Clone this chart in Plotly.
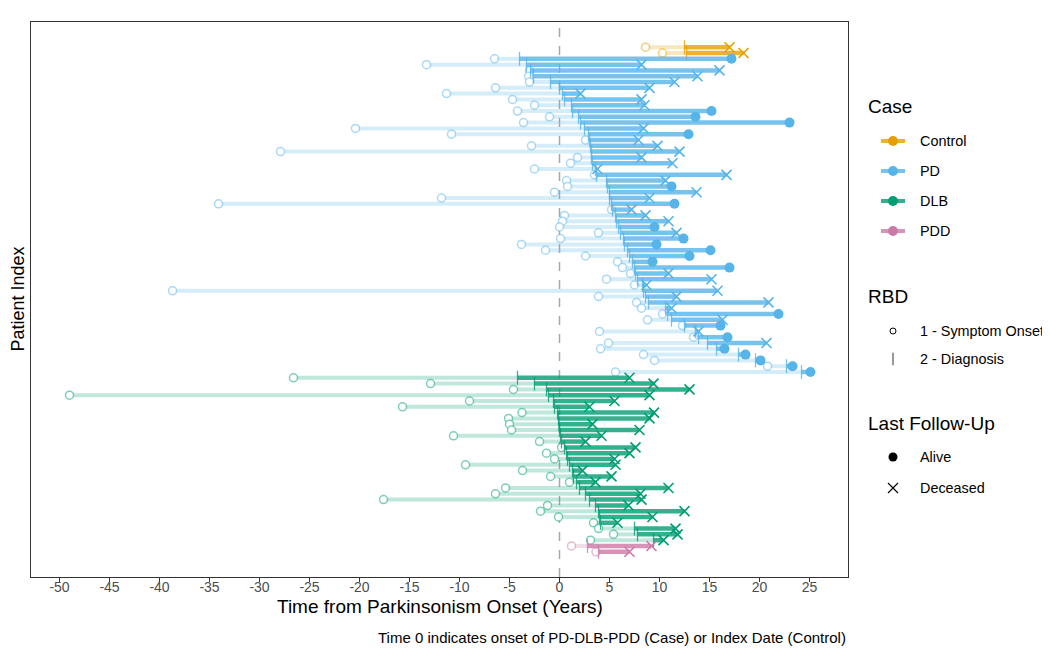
import plotly.graph_objects as go

# ---------------- data (years from parkinsonism onset) ----------------
case_names = ["Control", "PD", "DLB", "PDD"]
case_rgb = {"Control": (230, 159, 0), "PD": (86, 180, 233),
            "DLB": (0, 158, 115), "PDD": (204, 121, 167)}

control_onset = [8.6, 10.3]
control_dx = [12.5, 12.7]
control_last = [17.0, 18.4]
control_status = ["D", "D"]

pd_onset = [-6.5, -13.3, -3.0, -3.1, -3.0, -6.4, -11.3, -4.7, -2.5, -4.2, -1.0,
            -3.6, -20.4, -10.8, 2.6, -2.8, -27.9, 1.8, 1.1, -2.5, 3.5, 0.7, 0.8, -0.5,
            -11.8, -34.1, 5.2, 0.5, 0.3, 0.0, 3.9, 0.1, -3.8, -1.4, 2.6, 5.8, 6.3,
            7.1, 4.7, 7.5, -38.7, 3.9, 7.7, 8.2, 10.3, 8.8, 12.3, 4.0, 13.4, 4.9,
            4.1, 8.4, 9.5, 20.8, 5.6]
pd_dx = [-4.0, -3.3, -2.9, -2.6, -0.9, 0.0, 0.3, 0.5, 1.2, 1.3, 1.9,
         2.1, 2.5, 2.9, 3.0, 3.1, 3.2, 3.2, 3.3, 3.6, 3.7, 4.7, 4.8, 5.0,
         5.0, 5.2, 5.3, 5.6, 5.7, 5.9, 6.1, 6.4, 6.5, 6.8, 7.0, 7.3, 7.5,
         7.6, 7.8, 8.3, 8.4, 8.6, 8.9, 10.6, 10.8, 11.2, 12.5, 13.6, 13.9, 14.8,
         15.7, 17.9, 19.6, 22.7, 24.2]
pd_last = [17.2, 8.2, 16.0, 13.8, 11.5, 9.0, 2.1, 8.2, 8.5, 15.2, 13.6,
           23.0, 8.4, 12.9, 7.9, 9.8, 12.0, 8.2, 11.3, 3.8, 16.7, 10.6, 11.2, 13.7,
           9.0, 11.5, 7.2, 8.6, 10.9, 9.5, 11.7, 12.4, 9.7, 15.1, 13.0, 9.3, 17.0,
           10.9, 15.2, 8.7, 15.8, 11.7, 20.9, 11.2, 21.9, 16.3, 16.1, 13.9, 16.8, 20.7,
           16.5, 18.6, 20.1, 23.3, 25.1]
pd_status = ["A", "D", "D", "D", "D", "D", "D", "D", "D", "A", "A",
             "A", "D", "A", "D", "D", "D", "D", "D", "D", "D", "D", "A", "D",
             "D", "A", "D", "D", "D", "A", "D", "A", "A", "A", "A", "A", "A",
             "D", "D", "D", "D", "D", "D", "D", "A", "D", "A", "D", "A", "D",
             "A", "A", "A", "A", "A"]

dlb_onset = [-26.6, -12.9, -4.6, -49.0, -9.0, -15.7, -3.75, -5.1, -5.0, -4.8,
             -10.6, -2.0, 0.2, -1.3, -0.5, -9.4, -3.7, -0.9, 1.0, -5.4,
             -6.4, -17.6, -1.2, -1.9, -0.1, 3.4, 3.9, 5.4, 3.1]
dlb_dx = [-4.2, -2.5, -1.3, -1.1, -0.6, -0.5, -0.2, -0.1, -0.05, 0.0,
          0.1, 0.2, 0.5, 0.7, 0.8, 1.0, 1.3, 1.4, 1.7, 2.0,
          2.6, 3.0, 3.6, 3.9, 4.0, 4.1, 7.5, 7.8, 9.4]
dlb_last = [7.0, 9.4, 13.0, 9.0, 5.5, 3.0, 9.45, 9.0, 3.3, 8.0,
            4.2, 2.6, 7.6, 7.0, 5.5, 5.6, 2.3, 5.2, 3.6, 10.9,
            8.1, 8.2, 6.9, 12.5, 9.3, 5.8, 11.6, 11.8, 10.4]
dlb_status = ["D"] * 29

pdd_onset = [1.2, 3.65]
pdd_dx = [2.8, 3.9]
pdd_last = [9.2, 7.0]
pdd_status = ["D", "D"]

x_ticks = list(range(-50, 30, 5))
x_tick_labels = [str(v) for v in x_ticks]

groups = {
    "Control": (control_onset, control_dx, control_last, control_status),
    "PD": (pd_onset, pd_dx, pd_last, pd_status),
    "DLB": (dlb_onset, dlb_dx, dlb_last, dlb_status),
    "PDD": (pdd_onset, pdd_dx, pdd_last, pdd_status),
}

FONT = "Liberation Sans, Arial, Helvetica, sans-serif"

# page body has an 8px margin: work in reference pixels and shift by OFF
OFF = 8
W, H = 1050 - OFF, 652 - OFF
PL, PR, PT, PB = 31, 848, 22, 577          # panel box in reference pixels
ML, MT = PL - OFF, PT - OFF
MB = H - (PB - OFF)
PW = W - ML                                 # paper width (r margin = 0)
PH = PB - PT
dom = (PR - PL) / PW


def px(xr):
    return (xr - PL) / PW


def py(yr):
    return (PB - yr) / PH


def rgba(rgb, a):
    return "rgba(%d,%d,%d,%.3f)" % (rgb[0], rgb[1], rgb[2], a)


fig = go.Figure()

row = 0
n_total = sum(len(g[0]) for g in groups.values())
for name in case_names:
    onset, dx, last, status = groups[name]
    rgb = case_rgb[name]
    ys = list(range(row + 1, row + 1 + len(onset)))
    row += len(onset)

    lx, ly, dxs, dys = [], [], [], []
    for o, d, l, y in zip(onset, dx, last, ys):
        lx += [o, d, None]
        ly += [y, y, None]
        dxs += [d, l, None]
        dys += [y, y, None]

    # light segment: symptom onset -> diagnosis
    fig.add_trace(go.Scatter(x=lx, y=ly, mode="lines",
                             line=dict(color=rgba(rgb, 0.25), width=4),
                             hoverinfo="skip", showlegend=False))
    # onset circles
    fig.add_trace(go.Scatter(x=onset, y=ys, mode="markers",
                             marker=dict(symbol="circle", size=8, color="white",
                                         line=dict(color=rgba(rgb, 0.5), width=1.5)),
                             showlegend=False))
    # dark segment: diagnosis -> last follow-up
    fig.add_trace(go.Scatter(x=dxs, y=dys, mode="lines",
                             line=dict(color=rgba(rgb, 0.8), width=4.5),
                             hoverinfo="skip", showlegend=False))
    # diagnosis ticks
    fig.add_trace(go.Scatter(x=dx, y=ys, mode="markers",
                             marker=dict(symbol="line-ns", size=10,
                                         line=dict(color=rgba(rgb, 0.8), width=1.3)),
                             showlegend=False))
    # last follow-up
    ax = [l for l, s in zip(last, status) if s == "A"]
    ay = [y for y, s in zip(ys, status) if s == "A"]
    dxx = [l for l, s in zip(last, status) if s == "D"]
    dyy = [y for y, s in zip(ys, status) if s == "D"]
    fig.add_trace(go.Scatter(x=ax, y=ay, mode="markers",
                             marker=dict(symbol="circle", size=10, color=rgba(rgb, 1)),
                             showlegend=False))
    fig.add_trace(go.Scatter(x=dxx, y=dyy, mode="markers",
                             marker=dict(symbol="x-thin", size=10,
                                         line=dict(color=rgba(rgb, 1), width=1.6)),
                             showlegend=False))

# ---------------- manual legend (reference-pixel coordinate axis) ----------------
leg_case_y = [141, 171, 201, 231]
for name, yy in zip(case_names, leg_case_y):
    rgb = case_rgb[name]
    fig.add_trace(go.Scatter(x=[881, 905], y=[yy, yy], mode="lines",
                             line=dict(color=rgba(rgb, 0.8), width=4),
                             xaxis="x2", yaxis="y2", showlegend=False, hoverinfo="skip"))
    fig.add_trace(go.Scatter(x=[893], y=[yy], mode="markers",
                             marker=dict(symbol="circle", size=10, color=rgba(rgb, 1)),
                             xaxis="x2", yaxis="y2", showlegend=False, hoverinfo="skip"))
fig.add_trace(go.Scatter(x=[893], y=[331], mode="markers",
                         marker=dict(symbol="circle", size=6, color="white",
                                     line=dict(color="black", width=1)),
                         xaxis="x2", yaxis="y2", showlegend=False, hoverinfo="skip"))
fig.add_trace(go.Scatter(x=[893], y=[359], mode="markers",
                         marker=dict(symbol="line-ns", size=9,
                                     line=dict(color="#333333", width=1)),
                         xaxis="x2", yaxis="y2", showlegend=False, hoverinfo="skip"))
fig.add_trace(go.Scatter(x=[893], y=[457], mode="markers",
                         marker=dict(symbol="circle", size=9, color="black"),
                         xaxis="x2", yaxis="y2", showlegend=False, hoverinfo="skip"))
fig.add_trace(go.Scatter(x=[893], y=[488], mode="markers",
                         marker=dict(symbol="x-thin", size=10,
                                     line=dict(color="black", width=1.2)),
                         xaxis="x2", yaxis="y2", showlegend=False, hoverinfo="skip"))

annotations = []
for txt, yy in [("Case", 106), ("RBD", 296), ("Last Follow-Up", 423)]:
    annotations.append(dict(text=txt, x=866, y=yy, xref="x2", yref="y2",
                            xanchor="left", yanchor="middle", showarrow=False,
                            font=dict(size=19, color="black", family=FONT)))
for txt, yy in [("Control", 141), ("PD", 171), ("DLB", 201), ("PDD", 231),
                ("1 - Symptom Onset", 331), ("2 - Diagnosis", 359),
                ("Alive", 457), ("Deceased", 488)]:
    annotations.append(dict(text=txt, x=918, y=yy, xref="x2", yref="y2",
                            xanchor="left", yanchor="middle", showarrow=False,
                            font=dict(size=14.4, color="black", family=FONT)))

annotations.append(dict(text="Time from Parkinsonism Onset (Years)",
                        x=px(439.5), y=py(607), xref="paper", yref="paper",
                        xanchor="center", yanchor="middle", showarrow=False,
                        font=dict(size=19, color="black", family=FONT)))
annotations.append(dict(text="Patient Index", x=px(17), y=py(299.5),
                        xref="paper", yref="paper", xanchor="center", yanchor="middle",
                        textangle=-90, showarrow=False,
                        font=dict(size=18, color="black", family=FONT)))
annotations.append(dict(text="Time 0 indicates onset of PD-DLB-PDD (Case) or Index Date (Control)",
                        x=px(PR), y=py(637), xref="paper", yref="paper",
                        xanchor="right", yanchor="middle", showarrow=False,
                        font=dict(size=15, color="black", family=FONT)))

fig.update_layout(
    width=W, height=H,
    margin=dict(l=ML, r=0, t=MT, b=MB, pad=0),
    paper_bgcolor="white", plot_bgcolor="white",
    font=dict(family=FONT),
    showlegend=False,
    annotations=annotations,
    shapes=[dict(type="line", x0=0, x1=0, y0=0, y1=1, xref="x", yref="y domain",
                 line=dict(color="#A8A8A8", width=1.5, dash="dash"), layer="below")],
    xaxis=dict(domain=[0, dom], range=[-52.85, 28.85], tickvals=x_ticks,
               ticktext=x_tick_labels, showgrid=False, zeroline=False,
               showline=True, mirror=True, linecolor="#333333", linewidth=1,
               ticks="outside", ticklen=4, tickcolor="#333333",
               ticklabelstandoff=-7,
               tickfont=dict(size=14, color="#4D4D4D", family=FONT)),
    yaxis=dict(range=[n_total + 4.35, 1 - 4.35], showgrid=False, zeroline=False,
               showline=True, mirror=True, linecolor="#333333", linewidth=1,
               showticklabels=False, ticks=""),
    xaxis2=dict(domain=[dom, 1], range=[PR, PR + PW * (1 - dom)],
                visible=False, anchor="y2"),
    yaxis2=dict(domain=[0, 1], range=[PB, PT], visible=False, anchor="x2"),
)

fig.write_html("out.html")
